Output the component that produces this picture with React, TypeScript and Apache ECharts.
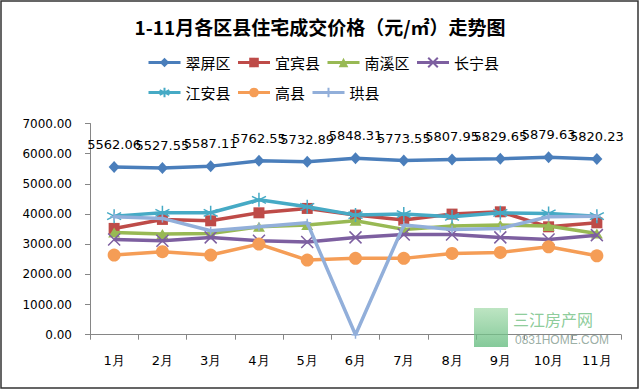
import React, { useEffect, useRef } from "react";
import * as echarts from "echarts";

const months = ["1月", "2月", "3月", "4月", "5月", "6月", "7月", "8月", "9月", "10月", "11月"];
const yTicks = [0, 1000, 2000, 3000, 4000, 5000, 6000, 7000];

const cuiping = [5562.06, 5527.55, 5587.11, 5762.55, 5732.89, 5848.31, 5773.55, 5807.95, 5829.65, 5879.63, 5820.23];
const yibin = [3523, 3821, 3775, 4040, 4185, 3964, 3798, 3997, 4073, 3576, 3709];
const nanxi = [3390, 3334, 3357, 3576, 3632, 3775, 3490, 3600, 3632, 3600, 3357];
const changning = [3158, 3113, 3225, 3113, 3070, 3225, 3324, 3324, 3225, 3158, 3300];
const jiangan = [3930, 4040, 4040, 4470, 4238, 3964, 3997, 3907, 4040, 4020, 3930];
const gaoxian = [2639, 2750, 2640, 3003, 2474, 2530, 2530, 2695, 2728, 2914, 2616];
const gongxian = [3907, 3854, 3444, 3576, 3709, 0, 3632, 3490, 3523, 3907, 3930];

const names = ["翠屏区", "宜宾县", "南溪区", "长宁县", "江安县", "高县", "珙县"];
const colors = ["#4A7EBB", "#BE4B48", "#98B954", "#7D5FA0", "#46AAC5", "#F59D56", "#92AFDA"];

export default function App() {
  const ref = useRef<HTMLDivElement>(null);
  useEffect(() => {
    if (!ref.current) return;
    const chart = echarts.init(ref.current, null, { renderer: "svg" });
    const seriesData = [cuiping, yibin, nanxi, changning, jiangan, gaoxian, gongxian];
    const symbols: any[] = [
      ["diamond", [11, 12]],
      ["rect", 11],
      ["triangle", [12, 10]],
      ["path://M0,0L10,10M10,0L0,10", 12],
      ["path://M5,0L5,10M0,2.5L10,7.5M10,2.5L0,7.5", 14],
      ["circle", 13],
      ["path://M5,0L5,10M0,5L10,5", 8],
    ];
    const series = names.map((n, i) => {
      const isPath = String(symbols[i][0]).startsWith("path://");
      const s: any = {
        name: n,
        type: "line",
        data: seriesData[i],
        symbol: symbols[i][0],
        symbolSize: symbols[i][1],
        lineStyle: { color: colors[i], width: 3.5 },
        itemStyle: isPath
          ? { color: colors[i], borderColor: colors[i], borderWidth: 1.5 }
          : { color: colors[i] },
        z: 2 + i,
      };
      if (i === 0) {
        s.label = {
          show: true,
          position: "top",
          distance: 10,
          color: "#000",
          fontFamily: "DejaVu Sans",
          fontSize: 13,
          formatter: (p: any) => Number(p.value).toFixed(2),
        };
      }
      return s;
    });
    const legendCommon = {
      orient: "horizontal",
      itemWidth: 32,
      itemHeight: 12,
      itemGap: 6,
      lineStyle: { width: 3 },
      textStyle: { fontFamily: "Noto Sans CJK SC", fontSize: 15, color: "#000", width: 47 },
    };
    chart.setOption({
      animation: false,
      backgroundColor: "#fff",
      title: {
        text: "1-11月各区县住宅成交价格（元/㎡）走势图",
        left: "center",
        top: 12,
        textStyle: { fontFamily: "Noto Sans CJK SC", fontSize: 19, fontWeight: "bold", color: "#000" },
      },
      legend: [
        { ...legendCommon, data: names.slice(0, 4), left: 142, top: 50 },
        { ...legendCommon, data: names.slice(4), left: 142, top: 80 },
      ],
      grid: { left: 90, right: 19, top: 123.5, bottom: 55.3 },
      xAxis: {
        type: "category",
        data: months,
        boundaryGap: true,
        axisLine: { show: true, lineStyle: { color: "#868686", width: 1 } },
        axisTick: { show: true, length: 5, lineStyle: { color: "#868686" } },
        axisLabel: { color: "#000", fontFamily: "DejaVu Sans", fontSize: 13, margin: 19 },
        splitLine: { show: false },
      },
      yAxis: {
        type: "value",
        min: yTicks[0],
        max: yTicks[yTicks.length - 1],
        interval: 1000,
        axisLine: { show: true, lineStyle: { color: "#868686", width: 1 } },
        axisTick: { show: true, length: 5, lineStyle: { color: "#868686" } },
        axisLabel: {
          color: "#000",
          fontFamily: "DejaVu Sans",
          fontSize: 12,
          margin: 18,
          formatter: (v: number) => v.toFixed(2),
        },
        splitLine: { show: false },
      },
      graphic: [
        {
          type: "rect",
          shape: { x: 1, y: 1, width: 637, height: 387 },
          style: { fill: "none", stroke: "#333", lineWidth: 1.5 },
          silent: true,
          z: 100,
        },
        {
          type: "rect",
          shape: { x: 474, y: 308, width: 34, height: 39 },
          style: {
            fill: new echarts.graphic.LinearGradient(0, 0, 0, 1, [
              { offset: 0, color: "#a7dcae" },
              { offset: 1, color: "#5cb878" },
            ]),
            opacity: 0.75,
          },
          silent: true,
          z: 1,
        },
        {
          type: "text",
          x: 513,
          y: 311,
          style: { text: "三江房产网", fill: "#7fc68e", font: "16px 'Noto Sans CJK SC'", opacity: 0.9 },
          silent: true,
          z: 1,
        },
        {
          type: "text",
          x: 515,
          y: 334,
          style: { text: "0831HOME.COM", fill: "#8fa59a", font: "12px 'Liberation Sans Narrow', 'Liberation Sans'", opacity: 0.9 },
          silent: true,
          z: 1,
        },
      ],
      series,
    });
    return () => chart.dispose();
  }, []);
  return (
    <div
      ref={ref}
      style={{ position: "absolute", left: 0, top: 0, width: 640, height: 390, background: "#fff" }}
    />
  );
}
